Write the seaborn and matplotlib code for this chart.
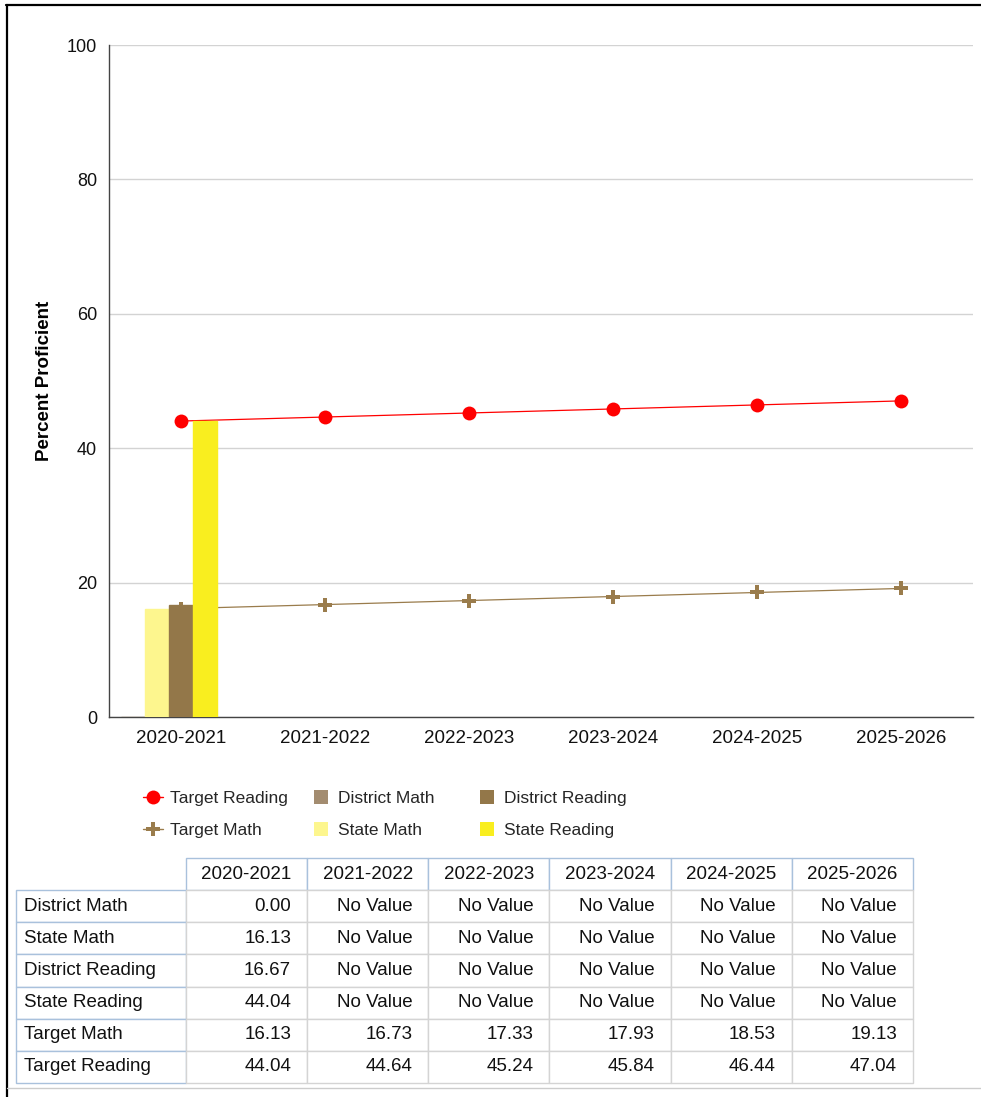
import numpy as np
import pandas as pd
import matplotlib
matplotlib.use("Agg")
import matplotlib.pyplot as plt
import seaborn as sns
from matplotlib.lines import Line2D
from matplotlib.table import Table

# ---------------- data ----------------
years = ["2020-2021", "2021-2022", "2022-2023", "2023-2024", "2024-2025", "2025-2026"]
district_math = [0.00, np.nan, np.nan, np.nan, np.nan, np.nan]
state_math = [16.13, np.nan, np.nan, np.nan, np.nan, np.nan]
district_reading = [16.67, np.nan, np.nan, np.nan, np.nan, np.nan]
state_reading = [44.04, np.nan, np.nan, np.nan, np.nan, np.nan]
target_math = [16.13, 16.73, 17.33, 17.93, 18.53, 19.13]
target_reading = [44.04, 44.64, 45.24, 45.84, 46.44, 47.04]

bar_series = ["District Math", "State Math", "District Reading", "State Reading"]
bar_values = [district_math, state_math, district_reading, state_reading]
line_series = ["Target Math", "Target Reading"]
line_values = [target_math, target_reading]
table_rows = ["District Math", "State Math", "District Reading", "State Reading",
              "Target Math", "Target Reading"]
table_values = [district_math, state_math, district_reading, state_reading,
                target_math, target_reading]

colors = {
    "District Math": "#a38c70",
    "State Math": "#fdf68e",
    "District Reading": "#937749",
    "State Reading": "#f9ee1f",
    "Target Math": "#9a7c4c",
    "Target Reading": "#ff0000",
}
SLOT = "_slot"  # empty fifth bar slot, as in the reference layout

# ---------------- style ----------------
sns.set_style("white")
plt.rcParams["font.family"] = ["Liberation Sans", "DejaVu Sans"]
plt.rcParams["font.size"] = 13

W, H = 981, 1097
fig = plt.figure(figsize=(W / 100, H / 100), dpi=100)

def fx(px):
    return px / W

def fy(py):
    return 1 - py / H

ax = fig.add_axes([fx(109), fy(717), fx(973) - fx(109), fy(45) - fy(717)])

# bars
bars_df = pd.DataFrame(
    [(y, s, v) for s, vals in zip(bar_series, bar_values) for y, v in zip(years, vals)
     if not np.isnan(v)],
    columns=["year", "series", "value"],
)
pal = dict(colors)
pal[SLOT] = "#ffffff"
sns.barplot(data=bars_df, x="year", y="value", hue="series", order=years,
            hue_order=bar_series + [SLOT], palette=pal, width=120 / 144,
            saturation=1, errorbar=None, legend=False, ax=ax)
for p in ax.patches:
    p.set_edgecolor(p.get_facecolor())
    p.set_linewidth(1)
    p.set_zorder(3)

# target lines
lines_df = pd.DataFrame(
    [(y, s, v) for s, vals in zip(line_series, line_values) for y, v in zip(years, vals)],
    columns=["year", "series", "value"],
)
sns.pointplot(data=lines_df, x="year", y="value", hue="series", order=years,
              hue_order=line_series, palette=[colors[s] for s in line_series],
              markers=["P", "o"], linestyles=["-", "-"], dodge=False,
              errorbar=None, legend=False, markersize=9, linewidth=0.9, ax=ax)
for ln in ax.lines:
    ln.set_zorder(2)
    c = matplotlib.colors.to_hex(ln.get_color())
    if c == colors["Target Reading"]:
        ln.set_markersize(10)
        ln.set_markeredgewidth(0)
    else:
        ln.set_markersize(9.5)
        ln.set_markeredgewidth(0)

ax.set_xlim(-0.5, len(years) - 0.5)
ax.set_ylim(0, 100)
ax.set_yticks([0, 20, 40, 60, 80, 100])
ax.set_xlabel("")
ax.set_ylabel("Percent Proficient", fontsize=13.5, fontweight="bold", color="black")
ax.yaxis.set_label_coords((53 - 109) / 864, 0.5)
ax.set_axisbelow(True)
ax.yaxis.grid(True, color="#d3d3d3", linewidth=1)
ax.xaxis.grid(False)
for side in ["top", "right"]:
    ax.spines[side].set_visible(False)
for side in ["left", "bottom"]:
    ax.spines[side].set_color("#444444")
    ax.spines[side].set_linewidth(1)
ax.tick_params(axis="both", length=0, colors="#111111")
ax.tick_params(axis="x", labelsize=13.5, pad=9.5)
ax.tick_params(axis="y", labelsize=13, pad=8.5)

# legends: three columns
def mk_line(s, m, ms):
    return Line2D([], [], color=colors[s], marker=m, markersize=ms, linewidth=1,
                  markeredgewidth=0)

def mk_sq(s):
    return Line2D([], [], color=colors[s], marker="s", markersize=10, linestyle="none",
                  markeredgewidth=0)

legend_cols = [
    (143, [mk_line("Target Reading", "o", 10), mk_line("Target Math", "P", 9.5)],
     ["Target Reading", "Target Math"]),
    (311, [mk_sq("District Math"), mk_sq("State Math")], ["District Math", "State Math"]),
    (477, [mk_sq("District Reading"), mk_sq("State Reading")],
     ["District Reading", "State Reading"]),
]
for xl, hs, ls in legend_cols:
    leg = fig.legend(hs, ls, loc="center left", bbox_to_anchor=(fx(xl), fy(814.5)),
                     frameon=False, borderpad=0, borderaxespad=0, fontsize=12.5,
                     handlelength=1.15, handletextpad=0.4, labelspacing=0.95)

# ---------------- table ----------------
tax = fig.add_axes([fx(16), fy(1083), fx(913) - fx(16), fy(858) - fy(1083)])
tax.axis("off")
tbl = Table(tax, bbox=[0, 0, 1, 1])
label_w = 170
col_w = (913 - 186) / len(years)
total_w = label_w + col_w * len(years)
nrows = len(table_rows) + 1
row_h = 1 / nrows
blue = "#a9c1dc"
gray = "#d4d4d4"

def fmt(v):
    return "No Value" if np.isnan(v) else f"{v:.2f}"

# data cells first (gray), then header/labels (blue) on top
for i, (rname, vals) in enumerate(zip(table_rows, table_values), start=1):
    for j, v in enumerate(vals, start=1):
        c = tbl.add_cell(i, j, col_w / total_w, row_h, text=fmt(v), loc="right",
                         edgecolor=gray, facecolor="white")
        c.PAD = 16 / col_w
for i, rname in enumerate(table_rows, start=1):
    c = tbl.add_cell(i, 0, label_w / total_w, row_h, text=rname, loc="left",
                     edgecolor=blue, facecolor="white")
    c.PAD = 8 / label_w
for j, y in enumerate(years, start=1):
    tbl.add_cell(0, j, col_w / total_w, row_h, text=y, loc="center",
                 edgecolor=blue, facecolor="white")
corner = tbl.add_cell(0, 0, label_w / total_w, row_h, text="", facecolor="white")
corner.visible_edges = "open"
tbl.auto_set_font_size(False)
tbl.set_fontsize(13.5)
for cell in tbl.get_celld().values():
    cell.set_linewidth(1)
    cell.get_text().set_color("#111111")
tax.add_table(tbl)

# ---------------- frame lines ----------------
fig.add_artist(Line2D([fx(6), 1], [fy(5), fy(5)], color="black", linewidth=1.6))
fig.add_artist(Line2D([fx(7), fx(7)], [fy(5), 0], color="black", linewidth=1.6))
fig.add_artist(Line2D([fx(7), 1], [fy(1088), fy(1088)], color="#cccccc", linewidth=1))

fig.savefig("out.png", dpi=100)
